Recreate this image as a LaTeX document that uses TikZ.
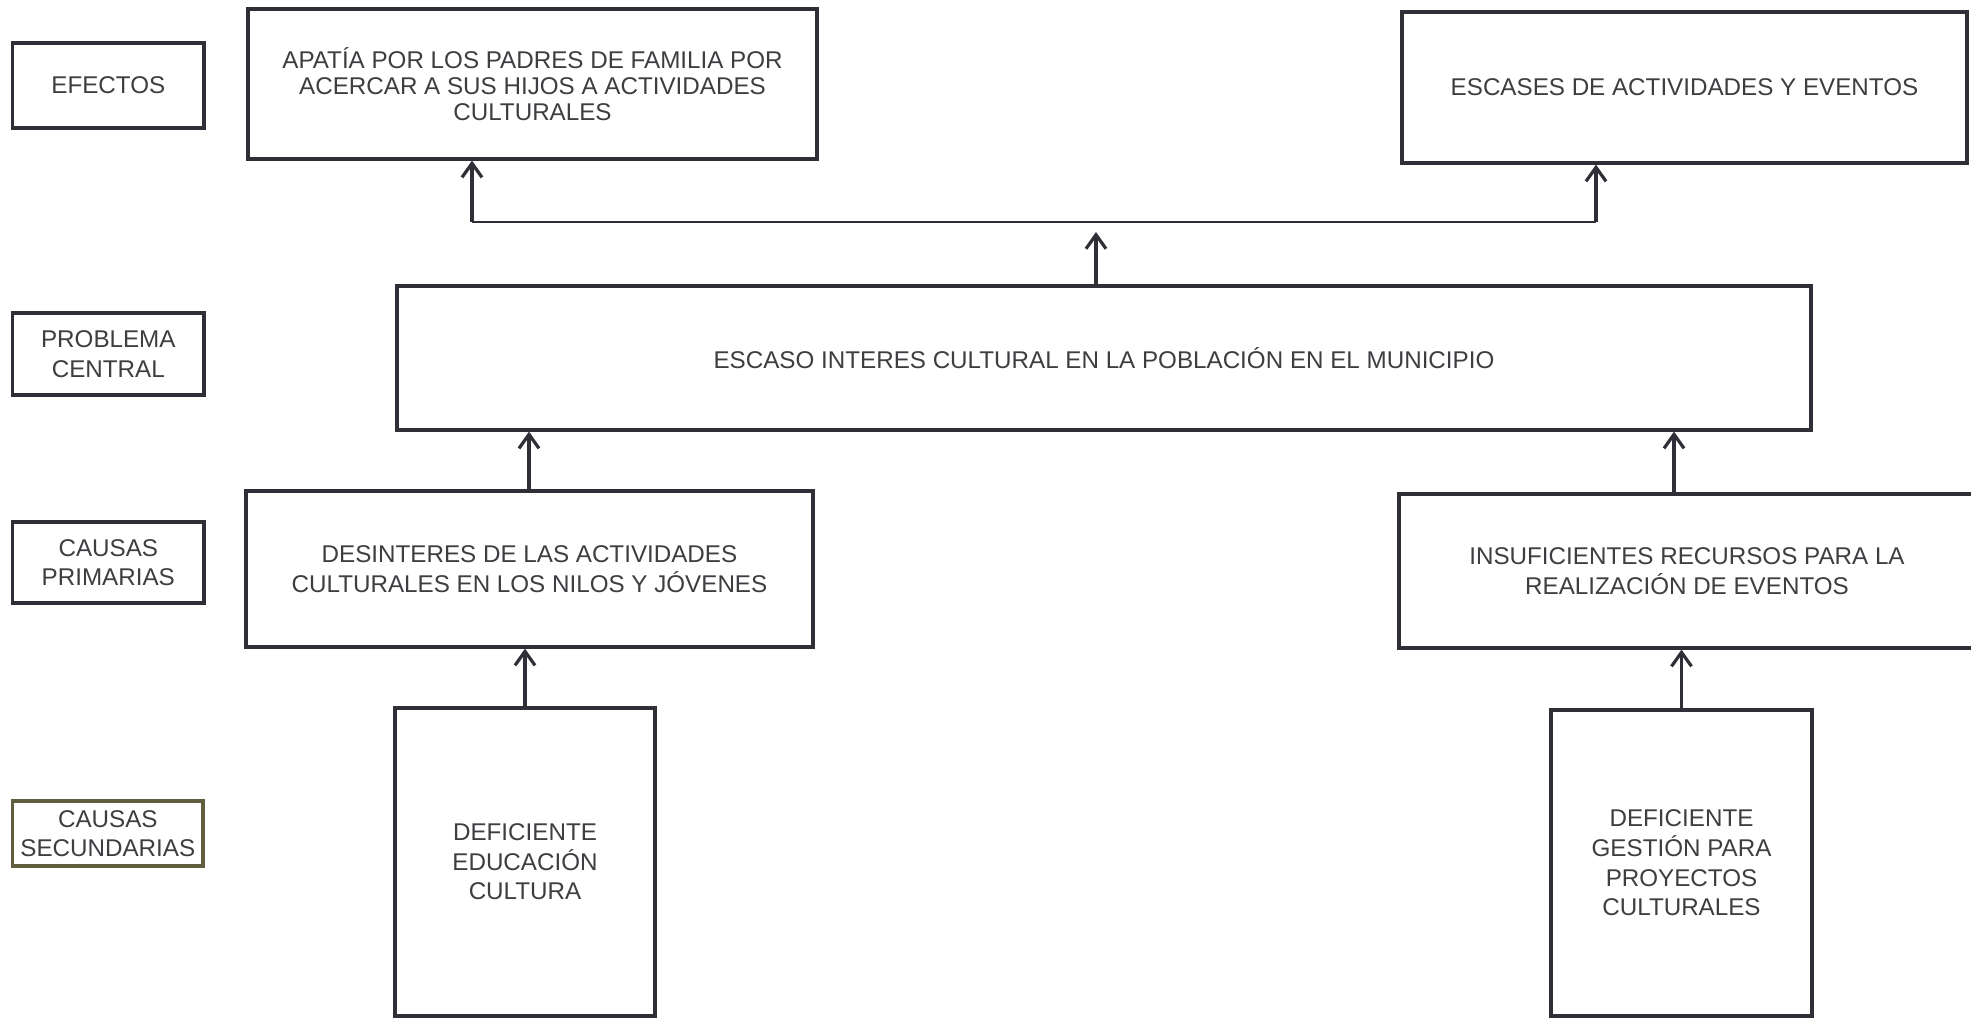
\documentclass[tikz,border=0pt]{standalone}
\usepackage{fontspec}
\setmainfont{Liberation Sans}
\usetikzlibrary{arrows.meta}
\definecolor{boxcol}{RGB}{48,46,54}
\definecolor{txtcol}{RGB}{62,62,66}
\definecolor{olivecol}{RGB}{96,94,62}
\begin{document}
\begin{tikzpicture}[x=0.5pt,y=-0.5pt,
  box/.style={draw=boxcol, line width=1.6pt, align=center, text=txtcol,
    font=\fontsize{12.1}{14.8}\selectfont, inner sep=0pt},
  conn/.style={draw=boxcol, line width=1.6pt},
  hline/.style={draw=boxcol, line width=1.3pt},
  arr/.style={conn, -{Straight Barb[length=7pt,width=10pt,line width=1.6pt]}}]
\useasboundingbox[fill=white] (0,0) rectangle (1971,1018);
% row labels
\node[box, minimum width=95.7pt, minimum height=42.5pt] (ef) at (108.3,85.5) {EFECTOS};
\node[box, minimum width=95.7pt, minimum height=41pt] (pc) at (108.3,354) {PROBLEMA\\CENTRAL};
\node[box, minimum width=95.7pt, minimum height=40.5pt] (cp) at (108.3,562.5) {CAUSAS\\PRIMARIAS};
\node[box, draw=olivecol, minimum width=95.2pt, minimum height=32.5pt] (cs) at (107.8,833.5) {CAUSAS\\SECUNDARIAS};
% effects
\node[box, font=\fontsize{12.1}{13}\selectfont, minimum width=284.5pt, minimum height=75pt] (ap) at (532.5,84) {APATÍA POR LOS PADRES DE FAMILIA POR\\ACERCAR A SUS HIJOS A ACTIVIDADES\\CULTURALES};
\node[box, minimum width=282.5pt, minimum height=75.5pt] (es) at (1684.5,87.5) {ESCASES DE ACTIVIDADES Y EVENTOS};
% central problem
\node[box, minimum width=707pt, minimum height=72pt] (ce) at (1104,358) {ESCASO INTERES CULTURAL EN LA POBLACIÓN EN EL MUNICIPIO};
% primary causes
\node[box, minimum width=283.5pt, minimum height=78pt] (de) at (529.5,569) {DESINTERES DE LAS ACTIVIDADES\\CULTURALES EN LOS NILOS Y JÓVENES};
\node[box, minimum width=288pt, minimum height=77pt] (in) at (1687,571) {INSUFICIENTES RECURSOS PARA LA\\REALIZACIÓN DE EVENTOS};
% secondary causes
\node[box, minimum width=130pt, minimum height=154pt] (ded) at (525,862) {DEFICIENTE\\EDUCACIÓN\\CULTURA};
\node[box, minimum width=130.5pt, minimum height=153pt] (dge) at (1681.5,863) {DEFICIENTE\\GESTIÓN PARA\\PROYECTOS\\CULTURALES};
% tee connector for effects
\coordinate (tc) at (1096,222);
\coordinate (tl) at (472,222);
\coordinate (tr) at (1596,222);
\draw[arr, shorten >=5pt] (ce.north -| tc) -- (tc);
\draw[hline] (tl) -- (tr);
\draw[arr] (tl) -- (ap.south -| tl);
\draw[arr] (tr) -- (es.south -| tr);
% causes to problem
\coordinate (xl) at (529,0);
\coordinate (xr) at (1674,0);
\draw[arr] (de.north -| xl) -- (ce.south -| xl);
\draw[arr] (in.north -| xr) -- (ce.south -| xr);
\draw[arr] (ded.north) -- (de.south -| ded.north);
\draw[arr] (dge.north) -- (in.south -| dge.north);
\end{tikzpicture}
\end{document}
